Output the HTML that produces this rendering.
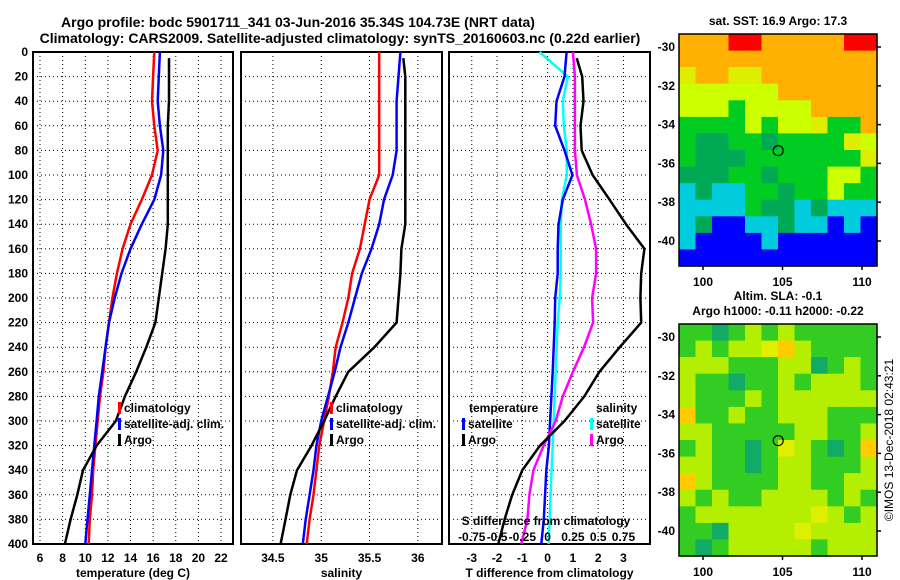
<!DOCTYPE html>
<html><head><meta charset="utf-8"><style>
body{margin:0;background:#fff;}
svg{display:block;font-family:"Liberation Sans",sans-serif;font-weight:bold;}
</style></head><body>
<svg id="c" width="900" height="580" viewBox="0 0 900 580" xmlns="http://www.w3.org/2000/svg">
<text x="298" y="27" font-size="14" text-anchor="middle">Argo profile: bodc 5901711_341 03-Jun-2016 35.34S 104.73E (NRT data)</text>
<text x="340" y="43" font-size="14" text-anchor="middle">Climatology: CARS2009. Satellite-adjusted climatology: synTS_20160603.nc (0.22d earlier)</text>
<g id="g"></g>
<text x="893" y="440" font-size="12" font-weight="normal" text-anchor="middle" transform="rotate(-90 893 440)">©IMOS 13-Dec-2018 02:43:21</text>
</svg>
<script>
// depths (m)
const depths=[0,20,40,60,80,100,120,140,160,180,200,220,240,260,280,300,320,340,360,380,400];
const argoDepths=[5,20,40,60,80,100,120,140,160,180,200,220,240,260,280,300,320,340,360,380,400];
// temperature panel
const tempClim=[16.1,16.0,15.9,16.1,16.4,15.9,15.0,14.0,13.3,12.8,12.4,12.1,11.8,11.6,11.3,11.1,10.9,10.7,10.6,10.4,10.3];
const tempSat=[16.6,16.5,16.4,16.6,16.9,16.7,16.1,15.0,14.0,13.2,12.6,12.1,11.8,11.5,11.2,11.0,10.8,10.6,10.4,10.2,10.0];
const tempArgo=[17.4,17.4,17.4,17.3,17.3,17.3,17.3,17.3,17.1,16.8,16.5,16.2,15.4,14.5,13.5,12.7,11.0,9.8,9.3,8.7,8.2];
const tempTicks=[6,8,10,12,14,16,18,20,22];
// salinity panel
const salClim=[35.6,35.6,35.6,35.6,35.6,35.6,35.5,35.45,35.4,35.32,35.28,35.22,35.15,35.12,35.08,35.03,34.98,34.95,34.92,34.88,34.85];
const salSat=[35.82,35.8,35.78,35.78,35.78,35.74,35.65,35.6,35.52,35.42,35.35,35.28,35.2,35.14,35.07,35.0,34.95,34.92,34.88,34.84,34.81];
const salArgo=[35.85,35.87,35.87,35.87,35.87,35.87,35.87,35.87,35.83,35.82,35.8,35.78,35.55,35.28,35.15,35.03,34.9,34.75,34.68,34.63,34.58];
const salTicks=[34.5,35,35.5,36];
// difference panel
const tDiffSat=[0.75,0.67,0.35,0.3,0.67,0.98,0.6,0.43,0.4,0.4,0.3,0.28,0.24,0.2,0.15,0.1,0.05,-0.05,-0.1,-0.15,-0.25];
const tDiffArgo=[1.15,1.37,1.42,1.3,1.35,1.78,2.45,3.1,3.83,3.7,3.67,3.7,2.85,2.05,1.45,0.67,-0.3,-1.0,-1.4,-1.7,-1.95];
const sDiffSat=[-0.08,0.2,0.15,0.16,0.19,0.19,0.14,0.13,0.13,0.13,0.12,0.1,0.09,0.08,0.07,0.06,0.05,0.04,0.03,0.02,0.01];
const sDiffArgo=[0.25,0.27,0.27,0.27,0.27,0.29,0.37,0.43,0.48,0.48,0.44,0.45,0.36,0.25,0.15,0.08,-0.04,-0.14,-0.18,-0.2,-0.26];
const tDiffTicks=[-3,-2,-1,0,1,2,3];
const sDiffTicks=["-0.75","-0.5","-0.25","0","0.25","0.5","0.75"];
const depthTicks=[0,20,40,60,80,100,120,140,160,180,200,220,240,260,280,300,320,340,360,380,400];
// maps
const sstRows=["OOORROOOOORR","OOOOOOOOOOOO","LOOLLOOOOOOO","YYYYYYOOOOOO","YYYGYYYYOOOO","GGGGYGYYLGGO","GDDGGDGGGGLY","GDDDGGGGGGGL","DDDGGDGGGYYG","CDCCGGDGGYGG","CCCCGDDCDCCC","CDBBCCDCCBCB","CBBBBCBBBBBB","BBBBBBBBBBBB"];
const slaRows=["GGTGYGYGGGGG","GYGYYyOYGGGG","YYYGGGYYTGYG","YGGTGGYGYYYG","YGGGYGYYYYYY","OGGYGGYYYGGG","YYGGGGGYYGGY","GYGGTGyYGTGO","YYGGTGYYGGGY","OYGGGGYYGGYY","YGYGGYYYYGYG","GYYYYYYYyYGY","GGTYYYYyYYYY","GTGYYYYYGYYY"];
const mapLonTicks=[100,105,110];
const mapLatTicks=[-30,-32,-34,-36,-38,-40];
const floatLon=104.73, floatLat=-35.34;

const NS="http://www.w3.org/2000/svg";
const G=document.getElementById('g');
function mk(tag,attrs,parent){const e=document.createElementNS(NS,tag);for(const k in attrs)e.setAttribute(k,attrs[k]);(parent||G).appendChild(e);return e;}
const yTop=52,yBot=544;
const yD=d=>yTop+(d/400)*(yBot-yTop);

function panel(name,x0,x1,xmin,xmax,ticks,tickLbl,title){
  const g=mk('g',{});
  
  
  const xs=v=>x0+(v-xmin)/(xmax-xmin)*(x1-x0);
  ticks.forEach((t,i)=>{
    const x=xs(t);
    const l=mk('line',{x1:x,x2:x,y1:yTop,y2:yBot,stroke:'#000','stroke-width':1,'stroke-dasharray':'1 3'},g);
    
    
    const tx=mk('text',{x:x,y:562,'font-size':12,'text-anchor':'middle'},g);
    tx.textContent=tickLbl?tickLbl[i]:t;
    
    
  });
  depthTicks.forEach(d=>{
    const y=yD(d);
    const l=mk('line',{x1:x0,x2:x1,y1:y,y2:y,stroke:'#000','stroke-width':1,'stroke-dasharray':'1 3'},g);
    
    
  });
  const r=mk('rect',{x:x0,y:yTop,width:x1-x0,height:yBot-yTop,fill:'none',stroke:'#000','stroke-width':2},g);
  
  
  const t=mk('text',{x:(x0+x1)/2,y:577,'font-size':12,'text-anchor':'middle'},g);
  t.textContent=title;
  
  
  return {g,xs};
}
function line(p,vals,ds,color,name,scale){
  const pts=vals.map((v,i)=>p.xs(v*(scale||1)).toFixed(1)+','+yD(ds[i]).toFixed(1)).join(' ');
  const l=mk('polyline',{points:pts,fill:'none',stroke:color,'stroke-width':2.5,'stroke-linejoin':'round'},p.g);
  
  
}
function legend(g,x,y,color,label,name){
  if(color){const r=mk('rect',{x:x,y:y-10,width:3,height:12,fill:color},g);
  
  }
  const t=mk('text',{x:x+(color?6:0),y:y,'font-size':12},g);
  t.textContent=label;
  
  
}

depthTicks.forEach(d=>{
  const t=mk('text',{x:28,y:yD(d)+4,'font-size':12,'text-anchor':'end'});
  t.textContent=d;
  
  
});

const p1=panel('temperature-panel',33,233,5.38,23.06,tempTicks,null,'temperature (deg C)');
line(p1,tempClim,depths,'#f00','temp-climatology-line');
line(p1,tempSat,depths,'#00f','temp-satellite-line');
line(p1,tempArgo,argoDepths,'#000','temp-argo-line');
legend(p1.g,118,412,'#f00','climatology','legend-climatology');
legend(p1.g,118,428,'#00f','satellite-adj. clim.','legend-satellite');
legend(p1.g,118,444,'#000','Argo','legend-argo');

const p2=panel('salinity-panel',241,442,34.17,36.25,salTicks,null,'salinity');
line(p2,salClim,depths,'#f00','sal-climatology-line');
line(p2,salSat,depths,'#00f','sal-satellite-line');
line(p2,salArgo,argoDepths,'#000','sal-argo-line');
legend(p2.g,330,412,'#f00','climatology','legend-climatology');
legend(p2.g,330,428,'#00f','satellite-adj. clim.','legend-satellite');
legend(p2.g,330,444,'#000','Argo','legend-argo');

const p3=panel('difference-panel',449,650,-3.9,4.05,tDiffTicks,null,'T difference from climatology');
line(p3,sDiffSat,depths,'#0ff','sdiff-satellite-line',4);
line(p3,tDiffSat,depths,'#00f','tdiff-satellite-line');
line(p3,sDiffArgo,depths,'#f0f','sdiff-argo-line',4);
line(p3,tDiffArgo,argoDepths,'#000','tdiff-argo-line');
legend(p3.g,469,412,null,'temperature','legend-temperature-heading');
legend(p3.g,462,428,'#00f','satellite','legend-t-satellite');
legend(p3.g,462,444,'#000','Argo','legend-t-argo');
legend(p3.g,596,412,null,'salinity','legend-salinity-heading');
legend(p3.g,590,428,'#0ff','satellite','legend-s-satellite');
legend(p3.g,590,444,'#f0f','Argo','legend-s-argo');
{const t=mk('text',{x:546,y:525,'font-size':12,'text-anchor':'middle'},p3.g);
t.textContent='S difference from climatology';


sDiffTicks.forEach((s,i)=>{const x=p3.xs(tDiffTicks[i]);
const e=mk('text',{x:x,y:541,'font-size':12,'text-anchor':'middle'},p3.g);
e.textContent=s;

});}

const sstCol={R:'#ff0000',O:'#ffb000',L:'#ddee00',Y:'#ccff00',G:'#00cc22',D:'#00aa55',C:'#00ccdd',B:'#0000ff'};
const slaCol={G:'#33cc22',Y:'#b4ee00',y:'#e0ee00',O:'#ffcc00',T:'#11aa66'};
function map(name,rows,cols,x0,x1,y0,y1,latY30,latY40,title){
  const g=mk('g',{});
  
  
  const nr=rows.length,nc=rows[0].length,cw=(x1-x0)/nc,ch=(y1-y0)/nr;
  rows.forEach((row,r)=>{[...row].forEach((c,k)=>{
    const e=mk('rect',{x:(x0+k*cw).toFixed(1),y:(y0+r*ch).toFixed(1),width:(cw+0.6).toFixed(1),height:(ch+0.6).toFixed(1),fill:cols[c]},g);
    
    
  });});
  const fr=mk('rect',{x:x0,y:y0,width:x1-x0,height:y1-y0,fill:'none',stroke:'#000','stroke-width':1.5},g);
  
  
  const lx=v=>703+(v-100)*15.9;
  const ly=v=>latY30+(-30-v)/10*(latY40-latY30);
  mapLonTicks.forEach(v=>{const t=mk('text',{x:lx(v),y:y1+20,'font-size':12,'text-anchor':'middle'},g);
    t.textContent=v;
    
    
    mk('line',{x1:lx(v),x2:lx(v),y1:y1,y2:y1+4,stroke:'#000','stroke-width':1.5},g);});
  mapLatTicks.forEach(v=>{const t=mk('text',{x:x0-4,y:ly(v)+4,'font-size':12,'text-anchor':'end'},g);
    t.textContent=v;
    
    
    mk('line',{x1:x1,x2:x1+4,y1:ly(v),y2:ly(v),stroke:'#000','stroke-width':1.5},g);});
  const c=mk('circle',{cx:lx(floatLon),cy:ly(floatLat),r:5,fill:'none',stroke:'#000','stroke-width':1.2},g);
  
  
  title.forEach((s,i)=>{const t=mk('text',{x:(x0+x1)/2,y:(i===0&&title.length>1)?y0-24:y0-9,'font-size':12,'text-anchor':'middle'},g);
    t.textContent=s;
    
    });
}
map('sst-map',sstRows,sstCol,679,877,34,266,47,241,['sat. SST: 16.9 Argo: 17.3']);
map('sla-map',slaRows,slaCol,679,877,324,556,337,531,['Altim. SLA: -0.1','Argo h1000: -0.11 h2000: -0.22']);
</script>
</body></html>
